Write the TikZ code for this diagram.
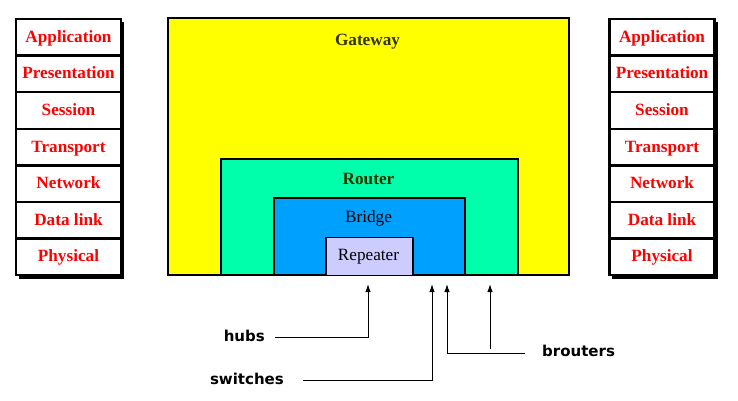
\documentclass[tikz,border=0pt]{standalone}
\usepackage{fontspec}
\setmainfont{Liberation Serif}
\newfontfamily\tagfont{DejaVu Sans}
\usetikzlibrary{positioning,arrows.meta}

\definecolor{gwyellow}{RGB}{255,255,0}
\definecolor{rtgreen}{RGB}{0,255,170}
\definecolor{brblue}{RGB}{0,160,255}
\definecolor{rplilac}{RGB}{204,204,255}
\definecolor{olive}{RGB}{51,51,0}

\tikzset{
  layer/.style={draw, line width=2.4pt, fill=white, minimum width=105pt, minimum height=36.6pt,
    inner sep=0pt, text=red, text height=12pt, text depth=2pt,
    font=\fontsize{17.2}{19}\selectfont\bfseries},
  devbox/.style={draw, line width=2.2pt, anchor=south west, inner sep=0pt},
  devtext/.style={font=\fontsize{17.2}{19}\selectfont},
  tag/.style={font=\tagfont\fontsize{15}{17}\selectfont\bfseries, inner sep=0pt},
  tip/.style={-{Latex[length=8pt,width=5.5pt]}, line width=1pt}
}

\begin{document}
\begin{tikzpicture}[x=1pt,y=-1pt]
\useasboundingbox (0,0) rectangle (738,400);

% left stack
\fill (19,22) rectangle (124,279);
\node[layer] (la) at (68.5,37.3) {Application};
\node[layer] (lpr) at (68.5,73.9) {Presentation};
\node[layer] (ls) at (68.5,110.4) {Session};
\node[layer] (lt) at (68.5,147) {Transport};
\node[layer] (ln) at (68.5,183.6) {Network};
\node[layer] (ld) at (68.5,220.1) {Data link};
\node[layer] (lph) at (68.5,256.7) {Physical};

% right stack
\fill (612,22) rectangle (718,279);
\node[layer] (ra) at (662,37.3) {Application};
\node[layer] (rpr) at (662,73.9) {Presentation};
\node[layer] (rs) at (662,110.4) {Session};
\node[layer] (rt) at (662,147) {Transport};
\node[layer] (rn) at (662,183.6) {Network};
\node[layer] (rd) at (662,220.1) {Data link};
\node[layer] (rph) at (662,256.7) {Physical};

% nested devices
\node[devbox, fill=gwyellow, minimum width=401pt, minimum height=257pt] (gateway) at (167,276) {};
\node[devbox, fill=rtgreen, minimum width=297pt, minimum height=116pt] (router) at (220,276) {};
\node[devbox, fill=brblue, minimum width=191pt, minimum height=77pt] (bridge) at (273,276) {};
\node[devbox, fill=rplilac, line width=1.5pt, minimum width=87pt, minimum height=38pt] (repeater) at (325,276) {};
\node[devtext, text=olive, font=\fontsize{17.2}{19}\selectfont\bfseries] (gwlbl) at (367.5,41.5) {Gateway};
\node[devtext, text=olive, font=\fontsize{17.2}{19}\selectfont\bfseries] (rtlbl) at (368.5,179) {Router};
\node[devtext] (brlbl) at (368.5,218) {Bridge};
\node[devtext] (rplbl) at (368.5,257) {Repeater};

% device names below
\coordinate (hubtip) at (368,284);
\coordinate (swtip) at (432,284);
\coordinate (brtipa) at (447,284);
\coordinate (brtipb) at (490,284);
\coordinate (brjoin) at (490,349);
\node[tag, anchor=east] (hubs) at (265,336) {hubs};
\node[tag, anchor=east] (switches) at (284,379) {switches};
\node[tag, anchor=west] (brouters) at (542,351) {brouters};

\draw[tip] ([xshift=10pt,yshift=-1pt]hubs.east) -| (hubtip);
\draw[tip] ([xshift=19pt,yshift=-1pt]switches.east) -| (swtip);
\draw[tip] ([xshift=-17pt,yshift=-2pt]brouters.west) -| (brtipa);
\draw[tip] (brjoin) -- (brtipb);
\end{tikzpicture}
\end{document}
